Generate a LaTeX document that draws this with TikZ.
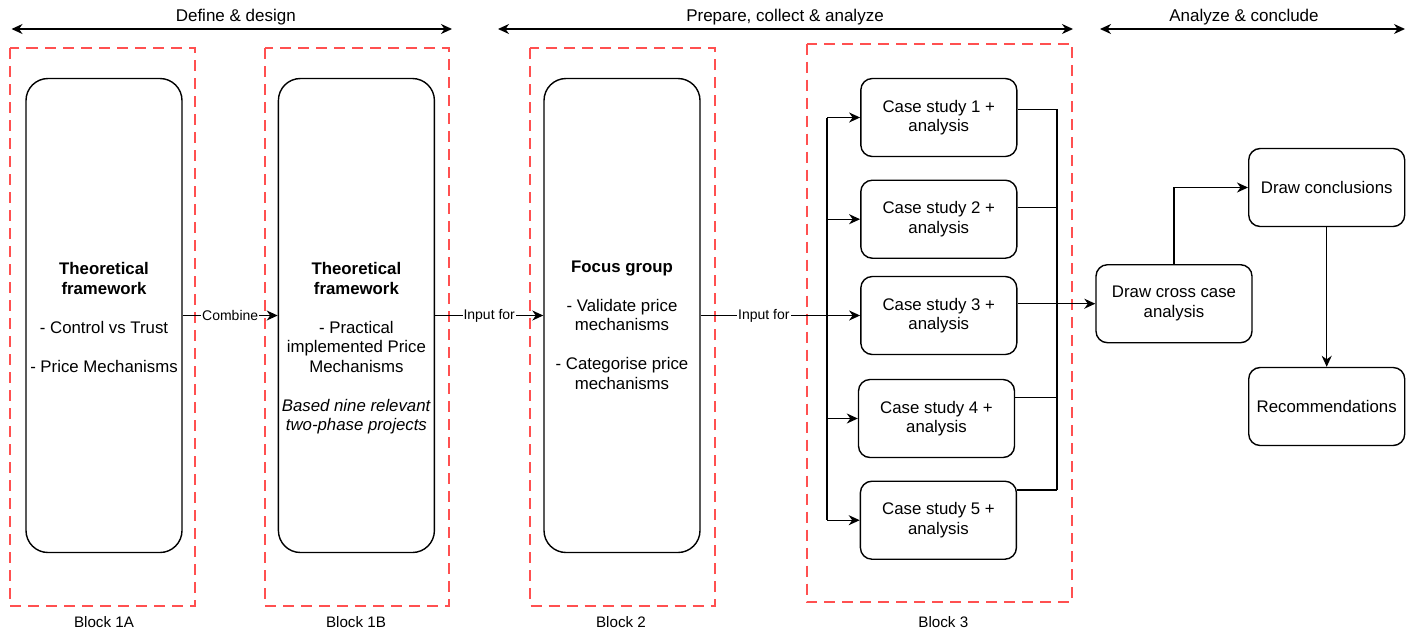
\documentclass[tikz,border=0pt]{standalone}
\usepackage{fontspec}
\setmainfont{Liberation Sans}
\usetikzlibrary{arrows.meta,calc}
\definecolor{blockred}{RGB}{255,80,80}
\begin{document}
\begin{tikzpicture}[x=1pt,y=-1pt,
  tip/.tip={Stealth[length=11pt,width=10pt,inset=3.5pt]},
  arr/.style={-tip, line width=1.4pt},
  span/.style={tip-tip, line width=1.4pt},
  plain/.style={line width=1.4pt},
  blockframe/.style={draw=blockred, line width=2pt, dash pattern=on 11pt off 7pt},
  bigbox/.style={draw, line width=1.4pt, rounded corners=22pt,
    minimum width=156pt, minimum height=474pt, inner sep=0pt},
  smallbox/.style={draw, line width=1.4pt, rounded corners=11.5pt,
    minimum width=156pt, minimum height=78pt, inner sep=0pt, align=center,
    font=\fontsize{16.8}{19.5}\selectfont},
  boxtext/.style={align=center, inner sep=0pt, anchor=north,
    font=\fontsize{16.8}{19.5}\selectfont},
  edgelabel/.style={fill=white, inner sep=1pt, font=\fontsize{14}{16}\selectfont},
  phase/.style={anchor=base, inner sep=0pt, font=\fontsize{17}{20}\selectfont},
  blocklabel/.style={anchor=base, inner sep=0pt, font=\fontsize{15.2}{18}\selectfont}
]
\useasboundingbox (0,0) rectangle (1415,633);

% phase spans along the top
\coordinate (p1l) at (11.5,29);   \coordinate (p1r) at (452,29);
\coordinate (p2l) at (498,29);    \coordinate (p2r) at (1073,29);
\coordinate (p3l) at (1100,29);   \coordinate (p3r) at (1405,29);
\draw[span] (p1l) -- (p1r);
\draw[span] (p2l) -- (p2r);
\draw[span] (p3l) -- (p3r);
\node[phase] (ph1) at (235.8,21.5) {Define \& design};
\node[phase] (ph2) at (785,21.5) {Prepare, collect \& analyze};
\node[phase] (ph3) at (1244,21.5) {Analyze \& conclude};

% dashed block frames
\draw[blockframe] (9.5,48) rectangle (195,605.5);
\draw[blockframe] (264.5,48) rectangle (449,605.5);
\draw[blockframe] (530,48) rectangle (715,605.5);
\draw[blockframe] (806.5,43.5) rectangle (1072,602);
\node[blocklabel] (bl1a) at (104,627) {Block 1A};
\node[blocklabel] (bl1b) at (356,627) {Block 1B};
\node[blocklabel] (bl2)  at (621,627) {Block 2};
\node[blocklabel] (bl3)  at (943.3,627) {Block 3};

% tall boxes
\node[bigbox] (b1a) at (104,315.5) {};
\node[bigbox] (b1b) at (356.4,315.5) {};
\node[bigbox] (b2)  at (622,315.5) {};
\node[boxtext] (t1a) at (104,262.3)
  {\textbf{Theoretical}\\\textbf{framework}\\[19.5pt]- Control vs Trust\\[19.5pt]- Price Mechanisms};
\node[boxtext] (t1b) at (356.4,262.3)
  {\textbf{Theoretical}\\\textbf{framework}\\[19.5pt]- Practical\\implemented Price\\Mechanisms\\[19.5pt]\textit{Based nine relevant}\\\textit{two-phase projects}};
\node[boxtext] (t2) at (622,260.7)
  {\textbf{Focus group}\\[19.5pt]- Validate price\\mechanisms\\[19.5pt]- Categorise price\\mechanisms};

% case studies
\node[smallbox] (c1) at (938.8,117.5) {Case study 1 +\\analysis};
\node[smallbox] (c2) at (938.8,219.2) {Case study 2 +\\analysis};
\node[smallbox] (c3) at (938.8,315.5) {Case study 3 +\\analysis};
\node[smallbox] (c4) at (936.5,418.5) {Case study 4 +\\analysis};
\node[smallbox] (c5) at (938.4,520.2) {Case study 5 +\\analysis};

% conclusion steps
\node[smallbox] (cross) at (1174,303.7) {Draw cross case\\analysis};
\node[smallbox] (concl) at (1326.7,187.5) {Draw conclusions};
\node[smallbox] (rec)   at (1326.7,406.5) {Recommendations};

% flow between blocks
\draw[arr] (b1a.east) -- node[edgelabel] {Combine} (b1b.west);
\draw[arr] (b1b.east) -- node[edgelabel] {Input for} (b2.west);
\coordinate (split) at (827,315.5);
\draw[plain] (b2.east) -- node[edgelabel] {Input for} (split);
\draw[arr] (split) -- (c3.west);
\draw[plain] (split |- c1.west) -- (split |- c5.west);
\foreach \i in {1,2,4,5} {
  \draw[arr] (split |- c\i.west) -- (c\i.west);
}

% collecting the case studies
\coordinate (k1) at (1057,109.3);
\coordinate (k2) at (1057,207.7);
\coordinate (k4) at (1057,397.7);
\coordinate (k5) at (1057,490);
\draw[plain] (c1.east |- k1) -- (k1);
\draw[plain] (c2.east |- k2) -- (k2);
\draw[plain] (c4.east |- k4) -- (k4);
\draw[plain] (c5.east |- k5) -- (k5);
\draw[plain] (k1) -- (k5);
\draw[arr] (c3.east |- cross.west) -- (cross.west);

\draw[arr] (cross.north) |- (concl.west);
\draw[arr] (concl.south) -- (rec.north);
\end{tikzpicture}
\end{document}
